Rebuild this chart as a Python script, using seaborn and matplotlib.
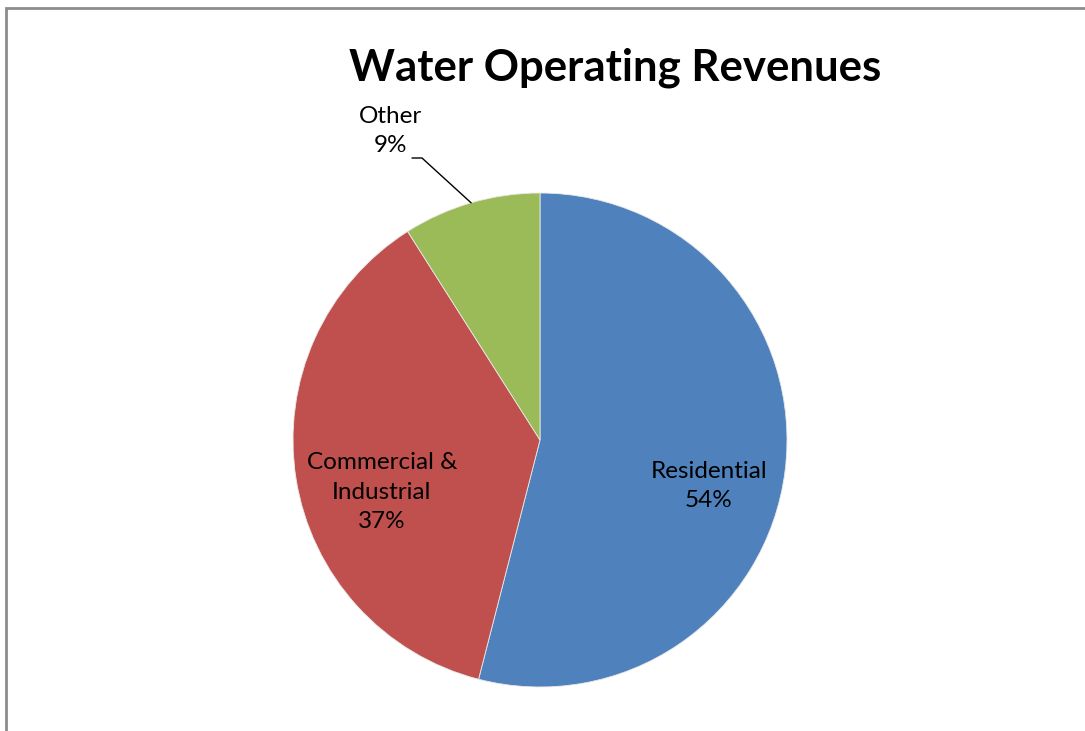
import matplotlib
matplotlib.use("Agg")
import matplotlib.pyplot as plt
import numpy as np
import seaborn as sns
from matplotlib.lines import Line2D

sns.set_theme(style="white")
plt.rcParams["font.family"] = ["Lato", "DejaVu Sans"]

# Revenue shares by customer class
categories = ["Residential", "Commercial &\nIndustrial", "Other"]
shares = [54, 37, 9]
colors = ["#4F81BD", "#C0504D", "#9BBB59"]
title = "Water Operating Revenues"

W, H = 1085, 731
fig = plt.figure(figsize=(W / 100, H / 100), dpi=100)
fig.patch.set_facecolor("white")

# outer frame of the chart area (left and top edges fall inside the canvas)
fx, fy = 5.5 / W, 1 - 7.5 / H
fig.add_artist(Line2D([fx, fx, 1.0], [0.0, fy, fy], transform=fig.transFigure,
                      color="#8c8c8c", linewidth=2.0, solid_joinstyle="miter"))

cx, cy, r = 540, 440, 247
ax = fig.add_axes([(cx - r) / W, (H - cy - r) / H, 2 * r / W, 2 * r / H])
wedges, _ = ax.pie(shares, colors=colors, startangle=90, counterclock=False,
                   radius=1.0, wedgeprops=dict(linewidth=0.6, edgecolor="#e8e8e8"))
ax.set_xlim(-1, 1)
ax.set_ylim(-1, 1)
ax.set_aspect("equal")
ax.axis("off")

fs = 17.5
ls = 1.52
# in-slice labels
label_pos = [(0.684, -0.186), (-0.640, -0.211)]
for i, (x, y) in enumerate(label_pos):
    ax.text(x, y, f"{categories[i]}\n{shares[i]}%", ha="center", va="center",
            fontsize=fs, linespacing=ls, color="black")

# outside label with leader line for the small slice
w = wedges[2]
mid = np.deg2rad((w.theta1 + w.theta2) / 2)
ex, ey = np.cos(mid), np.sin(mid)
lx, ly = -0.607, 1.251
ax.text(lx, ly, f"{categories[2]}\n{shares[2]}%", ha="center", va="center",
        fontsize=fs, linespacing=ls, color="black", clip_on=False)
kx, ky = (422 - cx) / r, (cy - 158) / r
ax.plot([(412 - cx) / r, kx, ex], [ky, ky, ey], color="black",
        linewidth=1.0, clip_on=False)

fig.text(615.5 / W, 1 - 80 / H, title, ha="center", va="baseline",
         fontsize=31.5, fontweight="bold", color="black")

fig.savefig("out.png", dpi=100, facecolor="white")
